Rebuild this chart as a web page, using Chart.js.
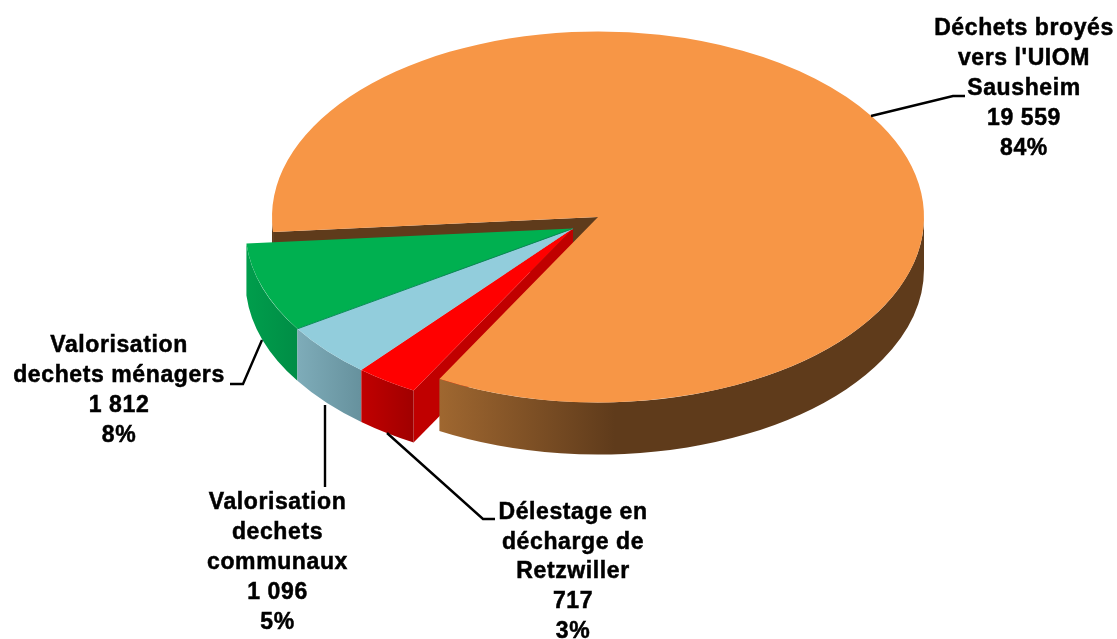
<!DOCTYPE html>
<html>
<head>
<meta charset="utf-8">
<style>
  html, body { margin: 0; padding: 0; background: #fff; overflow: hidden; }
  canvas { display: block; }
</style>
<script src="https://cdn.jsdelivr.net/npm/chart.js@4"></script>
</head>
<body>
<canvas id="pie" width="1117" height="639"></canvas>
<script>
const categories = ['Déchets broyés vers l\'UIOM Sausheim', 'Délestage en décharge de Retzwiller', 'Valorisation dechets communaux', 'Valorisation dechets ménagers'];
const tonnages = [19559, 717, 1096, 1812];
const tonnageLabels = ['19 559', '717', '1 096', '1 812'];
const percentLabels = ['84%', '3%', '5%', '8%'];
const nameLines = [
    ['Déchets broyés', 'vers l\'UIOM', 'Sausheim'],
    ['Délestage en', 'décharge de', 'Retzwiller'],
    ['Valorisation', 'dechets', 'communaux'],
    ['Valorisation', 'dechets ménagers']
];
const topColors = ['#f79646', '#ff0000', '#92cddc', '#00b050'];

// look of the tilted pie
const squash = 0.569;
const depth = 52;
const shift = [-25, 11.5];      // the 3 small slices are pulled out together
const stretch = 1.005;          // and reach a bit further left
const labelBoxes = [
    { x: 1024, y: 28.5, dy: 30 },
    { x: 573, y: 512.5, dy: 29.8 },
    { x: 277.5, y: 502.5, dy: 30 },
    { x: 119, y: 345.5, dy: 30 }
];
const leaders = [
    [[871, 116], [953, 96], [965, 96]],
    [[387, 433], [483, 519], [495, 519]],
    [[325, 405], [325, 487]],
    [[262, 340], [243, 384], [230, 384]]
];

function wall(ctx, arc, a, b, dx, dy, fill, xs = 1) {
    const rx = arc.outerRadius * xs, ry = arc.outerRadius * squash;
    ctx.beginPath();
    ctx.ellipse(arc.x + dx, arc.y + dy, rx, ry, 0, a, b);
    ctx.ellipse(arc.x + dx, arc.y + dy + depth, rx, ry, 0, b, a, true);
    ctx.closePath();
    ctx.fillStyle = fill;
    ctx.fill();
}

function cutWall(ctx, arc, angle, dx, dy, fill, xs = 1) {
    const rx = arc.outerRadius * xs, ry = arc.outerRadius * squash;
    const ex = arc.x + dx + rx * Math.cos(angle), ey = arc.y + dy + ry * Math.sin(angle);
    ctx.beginPath();
    ctx.moveTo(arc.x + dx, arc.y + dy);
    ctx.lineTo(ex, ey);
    ctx.lineTo(ex, ey + depth);
    ctx.lineTo(arc.x + dx, arc.y + dy + depth);
    ctx.closePath();
    ctx.fillStyle = fill;
    ctx.fill();
}

function seam(ctx, arc, angle, dx, dy, xs, color) {
    ctx.beginPath();
    ctx.moveTo(arc.x + dx, arc.y + dy);
    ctx.lineTo(arc.x + dx + arc.outerRadius * xs * Math.cos(angle), arc.y + dy + arc.outerRadius * squash * Math.sin(angle));
    ctx.strokeStyle = color;
    ctx.lineWidth = 1;
    ctx.stroke();
}

function hGrad(ctx, x0, x1, c0, c1) {
    const g = ctx.createLinearGradient(x0, 0, x1, 0);
    g.addColorStop(0, c0);
    g.addColorStop(1, c1);
    return g;
}

function drawTop(ctx, arc, dx, dy, xs = 1) {
    ctx.save();
    ctx.translate(arc.x + dx, arc.y + dy);
    ctx.scale(xs, squash);
    ctx.translate(-arc.x, -arc.y);
    arc.draw(ctx);
    ctx.restore();
}

const tiltedPie = {
    id: 'tiltedPie',
    beforeDatasetDraw(chart) {
        const ctx = chart.ctx;
        const [orange, red, blue, green] = chart.getDatasetMeta(0).data;
        const [sx, sy] = shift;
        const TWO_PI = Math.PI * 2;

        ctx.save();
        // brown cut face seen behind the green slice
        cutWall(ctx, orange, orange.startAngle, 0, 0, '#5f3b1b');

        // walls of the pulled out slices
        wall(ctx, green, green.startAngle, green.endAngle, sx, sy, hGrad(ctx, 245, 295, '#009e4c', '#008e46'), stretch);
        wall(ctx, blue, blue.startAngle, blue.endAngle, sx, sy, hGrad(ctx, 295, 362, '#7fadba', '#66919d'), stretch);
        cutWall(ctx, red, red.startAngle, sx, sy, '#c00000', stretch);
        wall(ctx, red, red.startAngle, red.endAngle, sx, sy, hGrad(ctx, 362, 414, '#c00000', '#a00000'), stretch);

        // orange outer wall, only the front half shows
        wall(ctx, orange, orange.startAngle, Math.PI, 0, 0, '#5f3b1b');
        wall(ctx, orange, TWO_PI, orange.endAngle, 0, 0, hGrad(ctx, 440, 615, '#9f6730', '#5f3b1b'));

        drawTop(ctx, orange, 0, 0);
        seam(ctx, red, red.endAngle, sx, sy, stretch, '#c8a0a8');
        drawTop(ctx, red, sx, sy, stretch);
        drawTop(ctx, blue, sx, sy, stretch);
        drawTop(ctx, green, sx, sy, stretch);
        seam(ctx, green, green.startAngle, sx, sy, stretch, '#0a8a5a');
        ctx.restore();
        return false;
    },
    afterDatasetsDraw(chart) {
        const ctx = chart.ctx;
        ctx.save();
        ctx.strokeStyle = '#000';
        ctx.lineWidth = 2.4;
        leaders.forEach(pts => {
            ctx.beginPath();
            pts.forEach((p, i) => i ? ctx.lineTo(p[0], p[1]) : ctx.moveTo(p[0], p[1]));
            ctx.stroke();
        });
        ctx.fillStyle = '#000';
        ctx.lineWidth = 0.5;
        ctx.font = 'bold 23px "Liberation Sans", Arial, sans-serif';
        ctx.letterSpacing = '0.6px';
        ctx.textAlign = 'center';
        ctx.textBaseline = 'middle';
        categories.forEach((c, i) => {
            const lines = nameLines[i].concat(tonnageLabels[i], percentLabels[i]);
            const box = labelBoxes[i];
            lines.forEach((t, j) => {
                ctx.fillText(t, box.x, box.y + j * box.dy);
                ctx.strokeText(t, box.x, box.y + j * box.dy);
            });
        });
        ctx.restore();
    }
};

new Chart(document.getElementById('pie').getContext('2d'), {
    type: 'pie',
    data: {
        labels: categories,
        datasets: [{ data: tonnages, backgroundColor: topColors, borderWidth: 0 }]
    },
    options: {
        responsive: false,
        animation: false,
        rotation: 265.4,
        radius: 326,
        layout: { padding: { left: 79, bottom: 205 } },
        events: [],
        plugins: { legend: { display: false }, tooltip: { enabled: false } }
    },
    plugins: [tiltedPie]
});
</script>
</body>
</html>
